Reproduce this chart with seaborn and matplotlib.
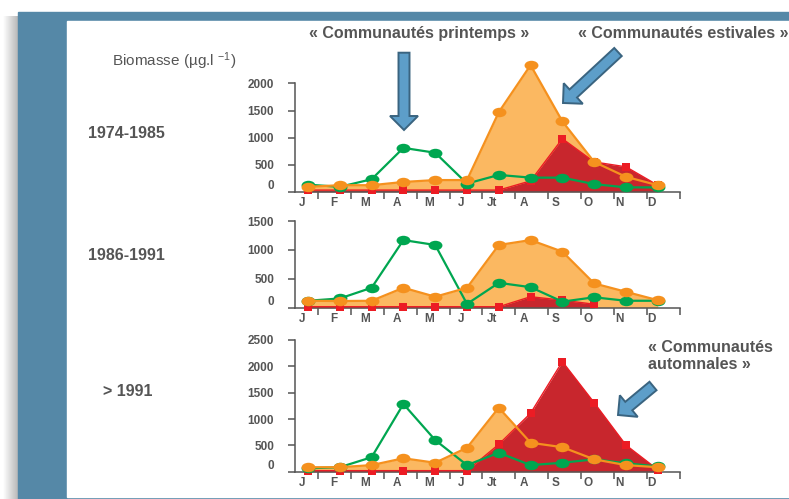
import numpy as np
import matplotlib
matplotlib.use("Agg")
import matplotlib.pyplot as plt
from matplotlib.path import Path
from matplotlib.patches import Rectangle, FancyArrow
import seaborn as sns

# --- data (biomasse en µg/l) ---
months = ["J", "F", "M", "A", "M", "J", "Jt", "A", "S", "O", "N", "D"]
periods = ["1974-1985", "1986-1991", "> 1991"]

estivales_1 = [90, 120, 120, 180, 215, 215, 1470, 2340, 1300, 550, 275, 120]
automnales_1 = [30, 30, 30, 30, 30, 30, 30, 200, 980, 550, 460, 120]
printemps_1 = [130, 90, 230, 810, 720, 150, 310, 260, 260, 140, 80, 80]

estivales_2 = [120, 115, 120, 345, 190, 345, 1085, 1170, 970, 420, 275, 130]
automnales_2 = [17, 17, 17, 17, 17, 17, 17, 190, 130, 60, np.nan, np.nan]
printemps_2 = [120, 160, 345, 1170, 1085, 65, 430, 355, 105, 180, 120, 120]

estivales_3 = [85, 85, 125, 255, 170, 455, 1215, 550, 465, 235, 125, 85]
automnales_3 = [20, 20, 20, 20, 20, 20, 520, 1110, 2090, 1310, 505, 40]
printemps_3 = [65, 85, 275, 1285, 600, 125, 360, 125, 170, 235, 160, 100]

yticks_1 = [0, 500, 1000, 1500, 2000]
yticks_2 = [0, 500, 1000, 1500]
yticks_3 = [0, 500, 1000, 1500, 2000, 2500]

# colours
orange_fill = "#fbb861"
orange_line = "#f5911e"
red_fill = "#c8262d"
red_line = "#ec1c24"
green = "#00a650"
txt = "#555555"
frame_blue = "#5588a7"
arrow_fill = "#5d9ec9"
arrow_edge = "#3a6480"

sns.set_theme(style="white")
plt.rcParams["font.family"] = ["Liberation Sans", "DejaVu Sans"]
plt.rcParams["mathtext.fontset"] = "custom"
plt.rcParams["mathtext.rm"] = "Liberation Sans"
plt.rcParams["mathtext.it"] = "Liberation Sans"

W, H = 789, 499
fig = plt.figure(figsize=(W / 100, H / 100), dpi=100)


def px_axes(left, right, top, bottom, **kw):
    return fig.add_axes([left / W, 1 - bottom / H, (right - left) / W, (bottom - top) / H], **kw)


# background: shadow, blue frame, white slide
bg = px_axes(0, W, 0, H, zorder=-10)
bg.set_xlim(0, W)
bg.set_ylim(H, 0)
bg.axis("off")
grad = np.linspace(1.0, 0.72, 50).reshape(1, -1)
bg.imshow(grad, cmap="gray", vmin=0, vmax=1, extent=(3, 18, H, 16), aspect="auto", zorder=0)
bg.add_patch(Rectangle((18, 12), W - 18, H - 12, color=frame_blue, zorder=1))
bg.add_patch(Rectangle((67, 21), W - 67, 476, color="white", zorder=2))

# marker shapes
circ = Path.unit_circle()
ellipse = Path(circ.vertices * [1.0, 0.68], circ.codes)

x = np.arange(12)
panels = [
    (estivales_1, automnales_1, printemps_1, yticks_1, 191.7, 83.5, 56),
    (estivales_2, automnales_2, printemps_2, yticks_2, 307.7, 221.0, 214),
    (estivales_3, automnales_3, printemps_3, yticks_3, 471.7, 340.0, 334),
]

for est, aut, pri, yt, zero_px, toptick_px, top_px in panels:
    ax = px_axes(295, 680, top_px, zero_px)
    ax.set_facecolor("none")
    scale = (zero_px - toptick_px) / yt[-1]
    ax.set_ylim(0, (zero_px - top_px) / scale)
    ax.set_xlim(-0.41, 11.70)

    est = np.array(est, dtype=float)
    aut = np.array(aut, dtype=float)
    pri = np.array(pri, dtype=float)

    ax.fill_between(x, 0, est, color=orange_fill, lw=0, zorder=1)
    ok = np.isfinite(aut)
    ax.fill_between(x[ok], 0, aut[ok], color=red_fill, lw=0, zorder=2)
    sns.lineplot(x=x[ok], y=aut[ok], ax=ax, color=red_line, lw=1, marker="s",
                 markersize=5.5, markeredgewidth=0, zorder=3, clip_on=False)
    sns.lineplot(x=x, y=pri, ax=ax, color=green, lw=1.6, marker=ellipse,
                 markersize=10, markeredgewidth=0, zorder=4, clip_on=False)
    sns.lineplot(x=x, y=est, ax=ax, color=orange_line, lw=1.6, marker=ellipse,
                 markersize=10, markeredgewidth=0, zorder=5, clip_on=False)

    for s in ["top", "right"]:
        ax.spines[s].set_visible(False)
    for s in ["left", "bottom"]:
        ax.spines[s].set_color("#555555")
        ax.spines[s].set_linewidth(1.1)
    ax.spines["left"].set_bounds(0, yt[-1])

    ax.set_yticks(yt)
    ax.set_yticklabels([str(v) for v in yt], fontweight="bold")
    ax.tick_params(axis="y", direction="out", length=5, width=1.1, color="#555555",
                   pad=10, labelsize=8.5, labelcolor=txt, left=True)
    for lab in ax.get_yticklabels():
        if lab.get_text() == "0":
            lab.set_va("bottom")

    ax.set_xticks(np.linspace(0.31, 11.70, 12))
    ax.set_xticklabels([])
    ax.set_xticks(x - 0.2, minor=True)
    ax.set_xticklabels(months, minor=True, fontweight="bold")
    ax.tick_params(axis="x", which="major", direction="out", length=5, width=1.1,
                   color="#555555", bottom=True)
    ax.tick_params(axis="x", which="minor", length=0, pad=3.5, labelsize=8.5,
                   labelcolor=txt, bottom=True)
    ax.set_xlabel("")
    ax.set_ylabel("")

# overlay: texts and arrows
ov = px_axes(0, W, 0, H, zorder=10)
ov.set_xlim(0, W)
ov.set_ylim(H, 0)
ov.axis("off")
ov.patch.set_alpha(0)

ov.text(112, 61, "Biomasse (µg.l $^{-1}$)", fontsize=11, color=txt, va="center", ha="left")
label_pos = [(88, 134), (88, 255), (103, 392)]
for (px, py), p in zip(label_pos, periods):
    ov.text(px, py, p, fontsize=11.5, fontweight="bold", color=txt, va="center", ha="left")

ov.text(419, 33, "« Communautés printemps »", fontsize=11.5, fontweight="bold",
        color=txt, ha="center", va="center")
ov.text(683, 33, "« Communautés estivales »", fontsize=11.5, fontweight="bold",
        color=txt, ha="center", va="center")
ov.text(648, 356, "« Communautés\nautomnales »", fontsize=11.5, fontweight="bold",
        color=txt, ha="left", va="center", linespacing=1.2)

arrows = [
    (404, 52.7, 0, 77.3),
    (618, 52, -55, 51),
    (653, 386, -35, 29),
]
for ax0, ay0, adx, ady in arrows:
    ov.add_patch(FancyArrow(ax0, ay0, adx, ady, width=11, head_width=28, head_length=14,
                            length_includes_head=True, facecolor=arrow_fill,
                            edgecolor=arrow_edge, linewidth=1.4, zorder=5))

fig.savefig("out.png", dpi=100)
